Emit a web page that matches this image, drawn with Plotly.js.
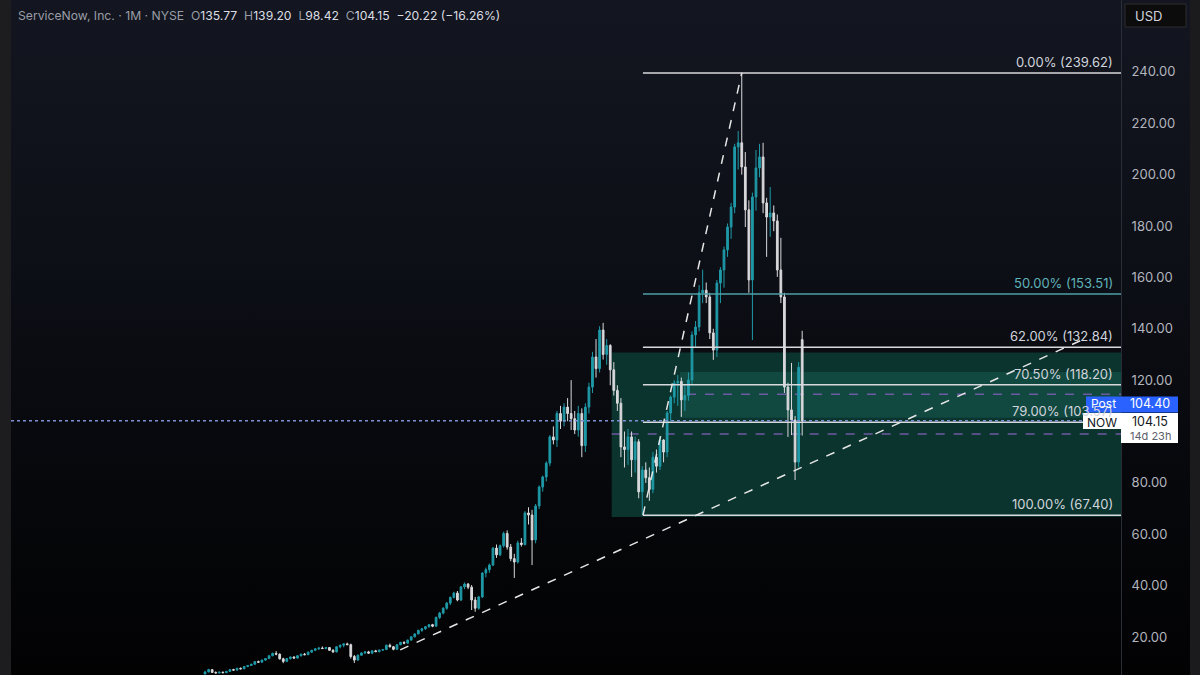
<!DOCTYPE html>
<html>
<head>
<meta charset="utf-8">
<script src="https://cdn.plot.ly/plotly-3.0.1.min.js"></script>
<style>
  html, body { margin: 0; padding: 0; background: #000; }
  #chart { width: 1200px; height: 675px;
    background: linear-gradient(to bottom, #131620 0%, #0e1018 35%, #07080c 70%, #020203 100%); }
</style>
</head>
<body>
<div id="chart"></div>
<script>
// ---------- DATA (monthly candles) ----------
const openPrices = [
  5.6,6.4,7.3,6.2,6.0,6.3,6.1,6.6,7.3,7.1,7.8,7.6,8.5,8.9,9.4,10.4,10.2,11.0,11.6,12.7,
  13.6,13.3,11.5,10.5,11.6,12.2,11.8,12.7,13.3,13.1,14.1,14.8,15.4,15.7,15.5,15.9,14.8,14.2,16.2,16.8,
  17.3,17.0,12.4,11.0,12.9,13.8,14.2,13.7,14.6,14.3,14.9,15.1,16.8,16.2,15.2,17.0,17.9,17.6,18.8,20.1,
  21.2,22.6,23.2,24.0,24.8,24.2,27.6,29.3,31.2,33.2,35.4,37.1,34.4,39.5,40.6,39.4,34.4,31.2,35.6,44.9,
  46.2,48.0,54.6,52.0,55.5,60.3,55.0,50.5,49.2,56.6,56.0,68.3,67.5,57.8,71.0,78.4,82.3,87.7,97.9,96.7,
  107.0,104.0,109.5,107.0,105.0,100.6,107.0,94.5,109.5,117.3,129.0,124.5,139.5,130.0,133.5,124.0,116.0,111.0,94.0,93.0,
  97.9,89.0,96.0,76.5,85.0,82.0,77.5,90.0,86.5,96.7,92.0,107.2,113.4,118.9,119.5,112.3,114.0,120.1,137.6,140.7,
  154.0,155.0,152.4,138.4,131.7,157.8,162.9,170.7,179.6,187.4,210.8,212.4,203.0,186.3,159.0,191.3,202.6,206.9,189.0,183.5,
  185.1,182.0,162.9,152.4,117.3,108.4,104.5,88.1,135.77
];
const highPrices = [
  6.8,7.6,7.5,6.6,6.5,6.5,6.8,7.5,7.6,8.0,8.1,8.6,9.1,9.6,10.6,10.8,11.2,11.8,12.9,13.9,
  14.5,13.6,11.9,11.8,12.4,12.5,12.9,13.5,13.8,14.3,15.0,15.6,15.9,16.3,16.0,16.1,15.3,16.4,17.0,17.6,
  17.8,17.4,13.0,13.2,14.0,14.4,14.6,14.8,15.0,15.1,15.3,17.0,17.4,16.5,17.2,18.1,18.3,19.0,20.3,21.4,
  22.8,23.5,24.2,25.0,25.1,28.0,29.8,31.6,33.6,35.8,37.6,37.9,39.8,41.2,41.0,40.2,35.6,36.0,45.2,47.0,
  48.6,55.0,56.0,56.0,61.0,61.5,56.2,52.4,57.5,58.5,69.0,70.5,69.5,71.8,79.0,82.8,88.4,98.6,102.0,108.0,
  110.0,111.0,113.0,120.0,108.0,110.0,109.0,111.0,119.0,131.0,136.0,141.0,142.3,136.0,134.0,127.0,118.0,113.0,100.0,101.0,
  100.0,98.0,97.0,86.5,88.0,86.0,92.0,93.0,98.0,97.0,108.0,114.0,120.0,122.0,121.0,118.0,123.0,139.0,143.0,157.0,
  163.0,158.0,154.0,140.0,159.0,164.0,172.0,181.0,189.0,212.0,217.0,239.62,208.8,190.0,193.0,209.6,212.0,212.4,191.0,195.2,
  188.0,184.5,175.4,154.0,119.0,126.7,106.0,127.0,139.20
];
const lowPrices = [
  5.4,6.2,6.0,5.8,5.8,5.9,6.0,6.5,6.9,7.0,7.4,7.5,8.2,8.7,9.2,9.9,10.0,10.7,11.4,12.5,
  12.9,11.2,9.8,10.2,11.2,11.6,11.6,12.4,12.9,13.0,13.8,14.5,15.0,15.3,15.2,14.6,13.8,14.0,15.6,16.0,
  16.9,11.6,9.9,10.8,12.6,13.3,13.4,13.5,14.1,14.0,14.6,15.0,15.9,14.8,15.0,16.8,17.2,17.4,18.5,19.8,
  21.0,22.0,22.8,23.6,23.8,24.0,27.0,28.8,30.6,32.4,35.0,33.9,34.0,38.6,38.6,30.5,29.8,30.6,35.2,43.2,
  45.0,47.6,50.8,51.5,54.8,54.0,49.5,43.0,48.6,55.2,55.6,63.8,48.0,56.5,69.8,76.6,80.6,86.5,95.0,94.0,
  101.0,102.0,104.0,100.6,99.0,98.0,90.0,92.0,107.0,115.0,121.0,123.0,128.0,126.0,118.0,114.0,108.0,90.0,86.0,87.0,
  82.3,84.0,74.0,67.4,80.0,73.0,76.0,84.0,85.0,88.0,90.0,104.0,111.0,110.0,105.7,108.0,112.0,118.0,133.0,139.0,
  150.0,150.0,136.0,127.9,129.0,150.0,156.0,168.0,175.0,185.0,202.0,200.0,179.6,154.0,135.6,186.0,199.0,185.0,168.0,175.8,
  178.0,160.2,150.0,115.0,97.9,98.6,81.1,86.0,98.42
];
const closePrices = [
  6.4,7.3,6.2,6.0,6.3,6.1,6.6,7.3,7.1,7.8,7.6,8.5,8.9,9.4,10.4,10.2,11.0,11.6,12.7,13.6,
  13.3,11.5,10.5,11.6,12.2,11.8,12.7,13.3,13.1,14.1,14.8,15.4,15.7,15.5,15.9,14.8,14.2,16.2,16.8,17.3,
  17.0,12.4,11.0,12.9,13.8,14.2,13.7,14.6,14.3,14.9,15.1,16.8,16.2,15.2,17.0,17.9,17.6,18.8,20.1,21.2,
  22.6,23.2,24.0,24.8,24.2,27.6,29.3,31.2,33.2,35.4,37.1,34.4,39.5,40.6,39.4,34.4,31.2,35.6,44.9,46.2,
  48.0,54.6,52.0,55.5,60.3,55.0,50.5,49.2,56.6,56.0,68.3,67.5,57.8,71.0,78.4,82.3,87.7,97.9,96.7,107.0,
  104.0,109.5,107.0,105.0,100.6,107.0,94.5,109.5,117.3,129.0,124.5,139.5,130.0,133.5,124.0,116.0,111.0,94.0,93.0,97.9,
  89.0,96.0,76.5,85.0,82.0,77.5,90.0,86.5,96.7,92.0,107.2,113.4,118.9,119.5,112.3,114.0,120.1,137.6,140.7,154.0,
  155.0,152.4,138.4,131.7,157.8,162.9,170.7,179.6,187.4,210.8,212.4,203.0,186.3,159.0,191.3,202.6,206.9,189.0,183.5,185.1,
  182.0,162.9,152.4,117.3,108.4,104.5,88.1,125.0,104.15
];
const monthIndex = openPrices.map((_, i) => i);

// the 100.00 tick is hidden behind the price labels in the reference
const yTickValues = [20, 40, 60, 80, 120, 140, 160, 180, 200, 220, 240];
const yTickLabels = ['20.00','40.00','60.00','80.00','120.00','140.00','160.00','180.00','200.00','220.00','240.00'];

const fibRatios = ['0.00%', '50.00%', '62.00%', '70.50%', '79.00%', '100.00%'];
const fibPrices = [239.62, 153.51, 132.84, 118.20, 103.57, 67.40];
const fibColors = ['#d8d9dd', '#4f9fa6', '#d8d9dd', '#d8d9dd', '#d8d9dd', '#d8d9dd'];
const fibLabelColors = ['#d1d4dc', '#5fb3ba', '#d1d4dc', '#d1d4dc', '#d1d4dc', '#d1d4dc'];

const swingLow = {i: 123.2, p: 67.40};
const swingHigh = {i: 151, p: 239.62};
const trendStart = {i: 54.9, p: 15.0};
const trendEnd = {i: 248.4, p: 136.7};

const zoneBox = {i0: 114.4, p0: 66.7, p1: 130.8};
const zoneBand = {i0: 133.6, p0: 105.4, p1: 123.2};
const purpleLevels = [114.5, 99.0];
const purpleStarts = [135.6, 114.4];

const lastPrice = 104.15;
const postPrice = 104.40;
const countdown = '14d 23h';

// ---------- LAYOUT ----------
const W = 1200, H = 675, L = 11, R = 1121;
const xMin = -54.6, xMax = 257.7;
const yMin = 5.2, yMax = 268.0;
const px = v => (v - L) / (R - L);      // pixel x -> paper x
const py = v => 1 - v / H;              // pixel y -> paper y
const FONT = 'Inter, Roboto, "Noto Sans", sans-serif';

const upColor = '#1f9aa8';
const downColor = '#d9d9dc';

const candles = {
  type: 'candlestick',
  x: monthIndex,
  open: openPrices, high: highPrices, low: lowPrices, close: closePrices,
  increasing: {line: {color: upColor, width: 1}, fillcolor: upColor},
  decreasing: {line: {color: downColor, width: 1}, fillcolor: downColor},
  whiskerwidth: 0,
  hoverinfo: 'skip',
  showlegend: false
};

const shapes = [];
// side strips
shapes.push({type:'rect', xref:'paper', yref:'paper', x0:px(0), x1:px(L), y0:0, y1:1, fillcolor:'#1d1d1f', line:{width:0}, layer:'above'});
shapes.push({type:'rect', xref:'paper', yref:'paper', x0:px(1190), x1:px(1200), y0:0, y1:1, fillcolor:'#1b1b1d', line:{width:0}, layer:'above'});
// zones
shapes.push({type:'rect', xref:'x', yref:'y', x0:zoneBox.i0, x1:xMax, y0:zoneBox.p0, y1:zoneBox.p1, fillcolor:'#0b342e', line:{width:0}, layer:'below'});
shapes.push({type:'rect', xref:'x', yref:'y', x0:zoneBand.i0, x1:xMax, y0:zoneBand.p0, y1:zoneBand.p1, fillcolor:'#114840', line:{width:0}, layer:'below'});
// purple dashed lines
purpleLevels.forEach((p, k) => shapes.push({type:'line', xref:'x', yref:'y', x0:purpleStarts[k], x1:xMax, y0:p, y1:p, line:{color:'#6d5aa3', width:1.5, dash:'dash'}, layer:'below'}));
// fib lines
fibPrices.forEach((p, k) => shapes.push({type:'line', xref:'x', yref:'y', x0:swingLow.i, x1:xMax, y0:p, y1:p, line:{color:fibColors[k], width:1.5}}));
// price dotted line
shapes.push({type:'line', xref:'x', yref:'y', x0:xMin, x1:xMax, y0:lastPrice, y1:lastPrice, line:{color:'#7f8fcf', width:1.5, dash:'dot'}});
// trend lines
shapes.push({type:'line', xref:'x', yref:'y', x0:swingLow.i, y0:swingLow.p, x1:swingHigh.i, y1:swingHigh.p, line:{color:'#e6e6e6', width:1.5, dash:'dash'}});
shapes.push({type:'line', xref:'x', yref:'y', x0:trendStart.i, y0:trendStart.p, x1:trendEnd.i, y1:trendEnd.p, line:{color:'#e6e6e6', width:1.5, dash:'dash'}});
// USD box
shapes.push({type:'rect', xref:'paper', yref:'paper', x0:px(1125), x1:px(1186), y0:py(27), y1:py(4), fillcolor:'#0c0c0d', line:{color:'#2c2c2e', width:1}, layer:'above'});

const annotations = [];
// fib labels
fibPrices.forEach((p, k) => annotations.push({
  xref:'paper', yref:'y', x:px(1114), y:p, xanchor:'right', yanchor:'bottom', yshift:2, borderpad:0,
  text: fibRatios[k] + ' (' + p.toFixed(2) + ')', showarrow:false,
  font:{family:FONT, size:13, color:fibLabelColors[k]}
}));
// header
const g = c => '<span style="color:#9a9da6">' + c + '</span>';
const v = t => '<span style="color:#dcdde2">' + t + '</span>';
annotations.push({
  xref:'paper', yref:'paper', x:px(17), y:py(16), xanchor:'left', yanchor:'middle', showarrow:false, borderpad:0,
  text: g('ServiceNow, Inc. · 1M · NYSE') + '  ' + g('O') + v(openPrices[openPrices.length-1].toFixed(2)) + '  ' +
        g('H') + v(highPrices[highPrices.length-1].toFixed(2)) + '  ' + g('L') + v(lowPrices[lowPrices.length-1].toFixed(2)) + '  ' +
        g('C') + v(closePrices[closePrices.length-1].toFixed(2)) + '  ' + v('−20.22 (−16.26%)'),
  font:{family:FONT, size:12.2, color:'#b2b5be'}
});
annotations.push({xref:'paper', yref:'paper', x:px(1134), y:py(15.5), xanchor:'left', yanchor:'middle', showarrow:false, borderpad:0,
  text:'USD', font:{family:FONT, size:13, color:'#d1d4dc'}});

// Post / NOW labels
shapes.push({type:'rect', xref:'paper', yref:'paper', x0:px(1086), x1:px(1178), y0:py(412.5), y1:py(396.5), fillcolor:'#2962ff', line:{width:0}, layer:'above'});
shapes.push({type:'rect', xref:'paper', yref:'paper', x0:px(1083), x1:px(1121), y0:py(429), y1:py(413), fillcolor:'#ffffff', line:{width:0}, layer:'above'});
shapes.push({type:'rect', xref:'paper', yref:'paper', x0:px(1121), x1:px(1178), y0:py(443), y1:py(413), fillcolor:'#ffffff', line:{width:0}, layer:'above'});
annotations.push({xref:'paper', yref:'paper', x:px(1103.5), y:py(403.5), xanchor:'center', yanchor:'middle', showarrow:false, borderpad:0, text:'Post', font:{family:FONT, size:12, color:'#ffffff'}});
annotations.push({xref:'paper', yref:'paper', x:px(1150), y:py(403.5), xanchor:'center', yanchor:'middle', showarrow:false, borderpad:0, text:postPrice.toFixed(2), font:{family:FONT, size:12.5, color:'#ffffff'}});
annotations.push({xref:'paper', yref:'paper', x:px(1102), y:py(422), xanchor:'center', yanchor:'middle', showarrow:false, borderpad:0, text:'NOW', font:{family:FONT, size:12, color:'#131722'}});
annotations.push({xref:'paper', yref:'paper', x:px(1150), y:py(421.5), xanchor:'center', yanchor:'middle', showarrow:false, borderpad:0, text:lastPrice.toFixed(2), font:{family:FONT, size:12.5, color:'#131722'}});
annotations.push({xref:'paper', yref:'paper', x:px(1150), y:py(436.5), xanchor:'center', yanchor:'middle', showarrow:false, borderpad:0, text:countdown, font:{family:FONT, size:11, color:'#5d606b'}});

const layout = {
  width: W, height: H,
  margin: {l: L, r: W - R, t: 0, b: 0, pad: 0},
  paper_bgcolor: 'rgba(0,0,0,0)',
  plot_bgcolor: 'rgba(0,0,0,0)',
  showlegend: false,
  xaxis: {range: [xMin, xMax], visible: false, rangeslider: {visible: false}, fixedrange: true},
  yaxis: {range: [yMin, yMax], side: 'right', tickvals: yTickValues, ticktext: yTickLabels,
    tickfont: {family: FONT, size: 13, color: '#b2b5be'}, showgrid: false, zeroline: false,
    showline: true, linecolor: '#2a2e39', linewidth: 1, ticks: '', ticklabelstandoff: 7, fixedrange: true},
  shapes: shapes,
  annotations: annotations,
  font: {family: FONT}
};

Plotly.newPlot('chart', [candles], layout, {displayModeBar: false, staticPlot: true});
</script>
</body>
</html>
